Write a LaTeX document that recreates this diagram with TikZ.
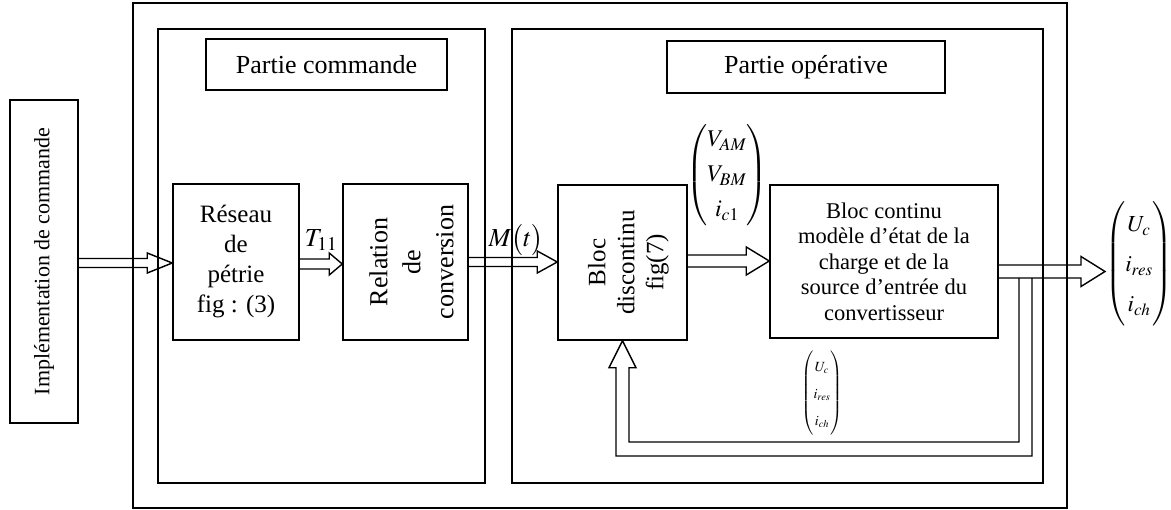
\documentclass[tikz,border=0pt]{standalone}
\usepackage{amsmath}
\usepackage{mathptmx}
\usepackage{fontspec}
\setmainfont{Liberation Serif}
\usetikzlibrary{calc}

% #1 start, #2 tip, #3 shaft half width, #4 head half width, #5 head length
\newcommand{\DArrow}[5]{%
  \draw[conn] ($(#1)+(0,#3)$) -- ($(#2)+(-#5,#3)$) -- ($(#2)+(-#5,#4)$) -- (#2)
    -- ($(#2)+(-#5,-#4)$) -- ($(#2)+(-#5,-#3)$) -- ($(#1)+(0,-#3)$);}

\tikzset{
  box/.style={draw, line width=1.5pt, inner sep=0pt},
  frame/.style={draw, line width=1.6pt, inner sep=0pt},
  conn/.style={line width=1.4pt, line join=miter},
  txt/.style={inner sep=0pt, align=center},
}

\begin{document}
\begin{tikzpicture}[x=1pt, y=-1pt]
\useasboundingbox (0,0) rectangle (1171,510);

% frames
\node[frame, minimum width=934, minimum height=505] (outer) at (600,255.5) {};
\node[frame, minimum width=327, minimum height=454] (cmd) at (321.5,256) {};
\node[frame, minimum width=531, minimum height=454] (op) at (777.5,256) {};
\node[box, minimum width=241, minimum height=51, font=\fontsize{26}{30}\selectfont] (cmdlabel) at (326.5,64.5) {Partie commande};
\node[box, minimum width=278, minimum height=52, font=\fontsize{26}{30}\selectfont] (oplabel) at (806,67) {Partie opérative};

% blocks
\node[box, minimum width=68, minimum height=323] (impl) at (44,261.5) {};
\node[txt, rotate=90, font=\fontsize{22}{26}\selectfont] (impltxt) at (impl.center) {Implémentation de commande};

\node[box, minimum width=126, minimum height=156, txt, font=\fontsize{25}{30}\selectfont] (reseau) at (236,262) {Réseau\\de\\pétrie\\fig : (3)};

\node[box, minimum width=125, minimum height=156] (relation) at (405.5,262) {};
\node[txt, rotate=90, font=\fontsize{26}{33}\selectfont] (reltxt) at ($(relation.center)+(6,0)$) {Relation\\de\\conversion};

\node[box, minimum width=129, minimum height=155] (discont) at (622.5,262.5) {};
\node[txt, rotate=90, font=\fontsize{25}{29}\selectfont] (distxt) at ($(discont.center)+(6,0)$) {Bloc\\discontinu\\fig(7)};

\node[box, minimum width=228, minimum height=153, txt, font=\fontsize{22.5}{25.5}\selectfont] (cont) at (884,261.5) {Bloc continu\\modèle d’état de la\\charge et de la\\source d’entrée du\\convertisseur};

% labels
\node[txt, font=\fontsize{26}{30}\selectfont] (tlab) at (321,240) {$T_{11}$};
\node[txt, font=\fontsize{26}{30}\selectfont] (mlab) at (516,240) {$M\bigl(t\bigr)$};
\node[txt, font=\fontsize{24}{35}\selectfont] (vvec) at (727,175) {$\begin{pmatrix}V_{AM}\\ V_{BM}\\ i_{c1}\end{pmatrix}$};
\node[txt, anchor=west, font=\fontsize{23}{40}\selectfont] (outvec) at (1105,264) {$\begin{pmatrix}U_{c}\\ i_{res}\\ i_{ch}\end{pmatrix}$};
\node[txt, font=\fontsize{14}{27}\selectfont] (fbvec) at (822,393) {$\begin{pmatrix}U_{c}\\ i_{res}\\ i_{ch}\end{pmatrix}$};

% arrow levels
\coordinate (y1) at (0,263);
\coordinate (y2) at (0,264);
\coordinate (y3) at (0,262);
\coordinate (y4) at (0,261);
\coordinate (y5) at (0,271.5);
\coordinate (x1) at (1032,0);
\coordinate (x2) at (1019,0);

\coordinate (a1s) at (impl.east |- y1);   \coordinate (a1e) at (reseau.west |- y1);
\coordinate (a2s) at (reseau.east |- y2); \coordinate (a2e) at (relation.west |- y2);
\coordinate (a3s) at (relation.east |- y3); \coordinate (a3e) at (discont.west |- y3);
\coordinate (a4s) at (discont.east |- y4); \coordinate (a4e) at (cont.west |- y4);
\coordinate (a5s) at (cont.east |- y5);   \coordinate (a5e) at (outvec.west |- y5);

\DArrow{a1s}{a1e}{4.5}{10}{25}
\DArrow{a2s}{a2e}{5}{11}{13}
\DArrow{a3s}{a3e}{4.5}{11}{20}
\DArrow{a4s}{a4e}{6}{14}{23}
\DArrow{a5s}{a5e}{6.5}{15}{24}

% feedback
\coordinate (fb1) at ($(x1 |- y5)+(0,6.5)$);
\coordinate (fb2) at ($(x2 |- y5)+(0,6.5)$);
\draw[conn] (fb1) -- ++(0,178) -| ($(discont.south)+(-6.5,27)$) -- ++(-7,0) -- (discont.south)
  -- ++(13.5,27) -- ++(-7,0) |- ($(fb2)+(0,164)$) -- (fb2);
\end{tikzpicture}
\end{document}
